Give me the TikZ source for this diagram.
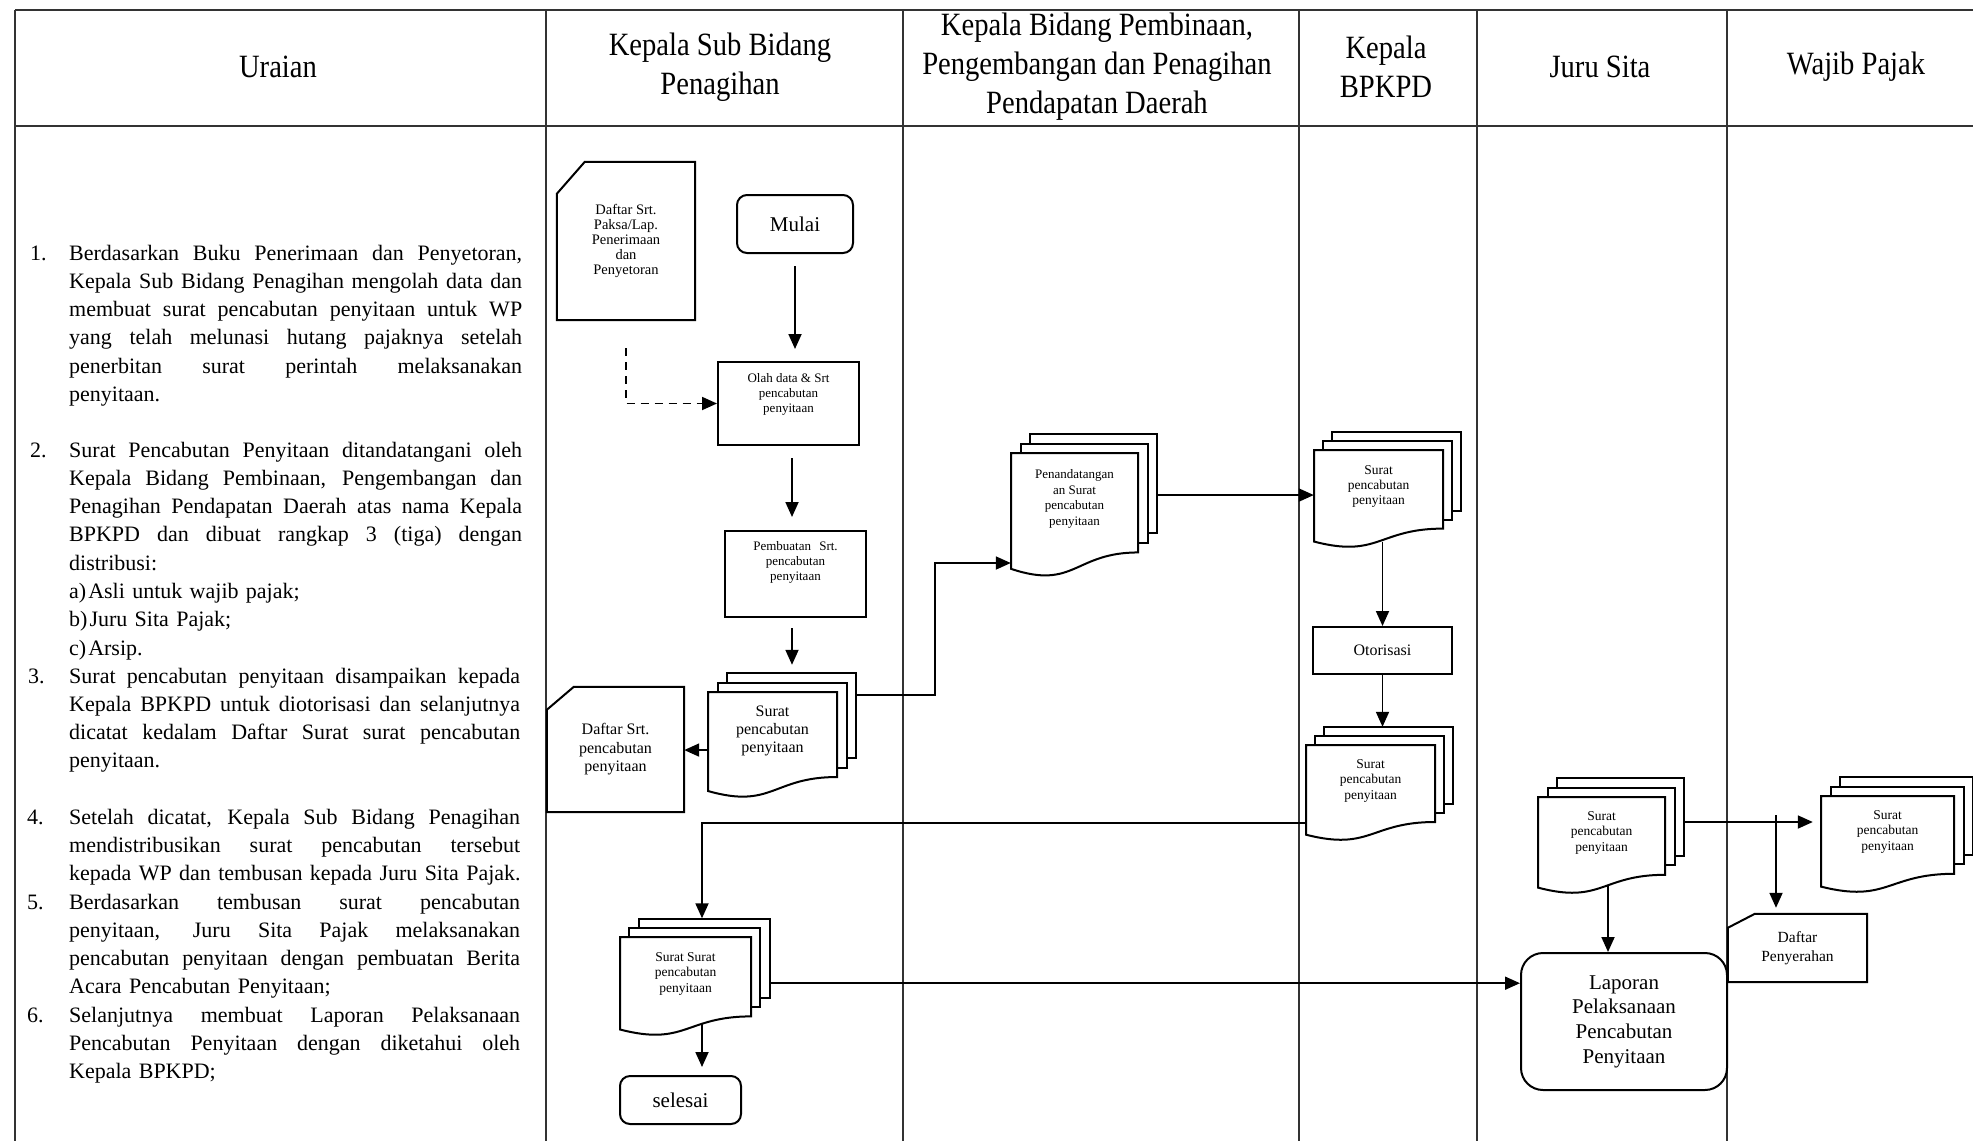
\documentclass[tikz,border=0pt]{standalone}
\usepackage{fontspec}
\setmainfont{Liberation Serif}
\newfontfamily\headfont{Liberation Serif}[FakeStretch=0.88]
\usetikzlibrary{arrows.meta}

% one line of a paragraph, spread to the given width
\newcommand\justline[2]{\leavevmode\hbox to #1pt{\spaceskip=.25em plus 1em minus .08em\relax #2}}

% multi-document symbol: #1 name, #2 left x, #3 right x, #4 top y, #5 height,
% #6 page offset, #7 font size, #8 leading, #9 text
\newcommand\mdoc[9]{%
  \draw[shp] ({#2+2*#6},{#4-2*#6}) rectangle ({#3+2*#6},{#4+0.802*#5-2*#6});
  \draw[shp] ({#2+#6},{#4-#6}) rectangle ({#3+#6},{#4+0.802*#5-#6});
  \draw[shp] (#2,#4) -- (#3,#4) -- ({#3},{#4+0.802*#5})
     .. controls ({(#2+#3)/2},{#4+0.802*#5}) and ({(#2+#3)/2},{#4+1.107*#5}) ..
     ({#2},{#4+0.934*#5}) -- cycle;
  \node[inner sep=0pt, minimum width={#3-#2}, minimum height={0.933*#5}]
     (#1) at ({(#2+#3)/2},{#4+0.4665*#5}) {};
  \node[font=\fontsize{#7}{#8}\selectfont, align=center, inner sep=0pt]
     (#1t) at ({(#2+#3)/2},{#4+0.37*#5}) {#9};
}

\begin{document}
\begin{tikzpicture}[x=1pt, y=-1pt,
  tbl/.style={line width=1.2pt, draw=black!80},
  shp/.style={line width=2pt, draw=black, fill=white},
  arr/.style={line width=1.8pt, -{Triangle[length=15pt,width=13pt]}},
  dasharr/.style={arr, dash pattern=on 8pt off 6pt},
  body/.style={font=\fontsize{22}{28.3}\selectfont, inner sep=0pt, anchor=base west},
  hdr/.style={font=\headfont\fontsize{32.5}{39}\selectfont, align=center, inner sep=0pt},
  box/.style={draw, line width=2pt, inner sep=0pt, align=center},
  cardtext/.style={inner sep=0pt, align=center},
]
\useasboundingbox[fill=white] (0,0) rectangle (1973,1141);

% ---- table frame ----
\draw[tbl] (15,10) -- (1973,10);
\draw[tbl] (15,126) -- (1973,126);
\foreach \cx in {15,546,903,1299,1477,1727} \draw[tbl] (\cx,10) -- (\cx,1141);

% ---- column headings ----
\node[hdr] (h1) at (278,67) {Uraian};
\node[hdr] (h2) at (720,67) {Kepala Sub Bidang\\Penagihan};
\node[hdr] (h3) at (1097,67) {Kepala Bidang Pembinaan,\\Pengembangan dan Penagihan\\Pendapatan Daerah};
\node[hdr] (h4) at (1386,67) {Kepala\\BPKPD};
\node[hdr] (h5) at (1600,67) {Juru Sita};
\node[hdr] (h6) at (1856,67) {Wajib Pajak};

% ---- description column ----
\node[body] (n1) at (30,260) {1.};
\node[body, text width=453pt] (t1) at (69,260) {%
\justline{453}{Berdasarkan Buku Penerimaan dan Penyetoran,}\\
\justline{453}{Kepala Sub Bidang Penagihan mengolah data dan}\\
\justline{453}{membuat surat pencabutan penyitaan untuk WP}\\
\justline{453}{yang telah melunasi hutang pajaknya setelah}\\
\justline{453}{penerbitan surat perintah melaksanakan}\\
penyitaan.};

\node[body] (n2) at (30,457) {2.};
\node[body, text width=453pt] (t2) at (69,457) {%
\justline{453}{Surat Pencabutan Penyitaan ditandatangani oleh}\\
\justline{453}{Kepala Bidang Pembinaan, Pengembangan dan}\\
\justline{453}{Penagihan Pendapatan Daerah atas nama Kepala}\\
\justline{453}{BPKPD dan dibuat rangkap 3 (tiga) dengan}\\
distribusi:\\
a)\kern2pt Asli untuk wajib pajak;\\
b)\kern2pt Juru Sita Pajak;\\
c)\kern2pt Arsip.};

\node[body] (n3) at (28,683) {3.};
\node[body, text width=451pt] (t3) at (69,683) {%
\justline{451}{Surat pencabutan penyitaan disampaikan kepada}\\
\justline{451}{Kepala BPKPD untuk diotorisasi dan selanjutnya}\\
\justline{451}{dicatat kedalam Daftar Surat surat pencabutan}\\
penyitaan.};

\node[body] (n4) at (27,824) {4.};
\node[body, text width=451pt] (t4) at (69,824) {%
\justline{451}{Setelah dicatat, Kepala Sub Bidang Penagihan}\\
\justline{451}{mendistribusikan surat pencabutan tersebut}\\
\mbox{kepada WP dan tembusan kepada Juru Sita Pajak.}};

\node[body] (n5) at (27,909) {5.};
\node[body, text width=451pt] (t5) at (69,909) {%
\justline{451}{Berdasarkan tembusan surat pencabutan}\\
\justline{451}{penyitaan, Juru Sita Pajak melaksanakan}\\
\justline{451}{pencabutan penyitaan dengan pembuatan Berita}\\
Acara Pencabutan Penyitaan;};

\node[body] (n6) at (27,1022) {6.};
\node[body, text width=451pt] (t6) at (69,1022) {%
\justline{451}{Selanjutnya membuat Laporan Pelaksanaan}\\
\justline{451}{Pencabutan Penyitaan dengan diketahui oleh}\\
Kepala BPKPD;};

% ---- Kepala Sub Bidang Penagihan ----
\node[cardtext, minimum width=138, minimum height=158, font=\fontsize{14.5}{15}\selectfont]
  (card1) at (626,241) {Daftar Srt.\\Paksa/Lap.\\Penerimaan\\dan\\Penyetoran};
\draw[line width=2pt] ([xshift=28pt]card1.north west) -- (card1.north east) -- (card1.south east)
  -- (card1.south west) -- ([yshift=-32pt]card1.north west) -- cycle;

\node[box, rounded corners=10pt, minimum width=116, minimum height=58,
  font=\fontsize{21}{25}\selectfont] (mulai) at (795,224) {Mulai};

\node[box, minimum width=141, minimum height=83, font=\fontsize{13}{15}\selectfont]
  (olah) at (788.5,403.5) {Olah data \& Srt\\pencabutan\\penyitaan\\[6pt]};

\node[box, minimum width=141, minimum height=86, font=\fontsize{13}{15}\selectfont]
  (pemb) at (795.5,574) {Pembuatan\hspace{5pt} Srt.\\pencabutan\\penyitaan\\[12pt]};

\mdoc{s1}{708}{837}{692}{106}{9.5}{16}{18}{Surat\\pencabutan\\penyitaan}

\node[cardtext, minimum width=137, minimum height=125, font=\fontsize{16}{18.5}\selectfont]
  (card2) at (615.5,749.5) {Daftar Srt.\\pencabutan\\penyitaan};
\draw[line width=2pt] ([xshift=27pt]card2.north west) -- (card2.north east) -- (card2.south east)
  -- (card2.south west) -- ([yshift=-23pt]card2.north west) -- cycle;

\mdoc{s2}{620}{751}{937}{99}{9.25}{13.5}{15.5}{Surat Surat\\pencabutan\\penyitaan}

\node[box, rounded corners=10pt, minimum width=121, minimum height=48,
  font=\fontsize{21}{25}\selectfont] (selesai) at (680.5,1100) {selesai};

% ---- Kepala Bidang Pembinaan ----
\mdoc{p}{1011}{1138}{453}{124}{9.5}{13}{15.5}{Penandatangan\\an Surat\\pencabutan\\penyitaan}

% ---- Kepala BPKPD ----
\mdoc{b1}{1314}{1443}{450}{98}{9}{13.5}{15}{Surat\\pencabutan\\penyitaan}
\node[box, minimum width=139, minimum height=47, font=\fontsize{16}{19}\selectfont]
  (otor) at (1382.5,650.5) {Otorisasi};
\mdoc{b2}{1306}{1435}{745}{96}{9}{13.5}{15.5}{Surat\\pencabutan\\penyitaan}

% ---- Juru Sita ----
\mdoc{j}{1538}{1665}{797}{97}{9.5}{13.5}{15.5}{Surat\\pencabutan\\penyitaan}
\node[box, rounded corners=22pt, minimum width=206, minimum height=137,
  font=\fontsize{21}{24.7}\selectfont] (lap) at (1624,1021.5)
  {Laporan\\Pelaksanaan\\Pencabutan\\Penyitaan};

% ---- Wajib Pajak ----
\mdoc{w}{1821}{1954}{796}{97}{9.5}{13.5}{15.5}{Surat\\pencabutan\\penyitaan}
\node[cardtext, minimum width=139, minimum height=68, font=\fontsize{15.5}{19}\selectfont]
  (dp) at (1797.5,948) {Daftar\\Penyerahan};
\draw[line width=2pt] ([xshift=27pt]dp.north west) -- (dp.north east) -- (dp.south east)
  -- (dp.south west) -- ([yshift=-14pt]dp.north west) -- cycle;

% ---- flow ----
\draw[arr, shorten <=12pt, shorten >=12pt] (mulai.south) -- (mulai.south |- olah.north);
\draw[dasharr, shorten <=28pt] (card1.south) |- (olah.west);
\draw[arr, shorten <=12pt, shorten >=13pt] ([xshift=3.5pt]olah.south) -- ([xshift=3.5pt]olah.south |- pemb.north);
\draw[arr, shorten <=10pt, shorten >=27pt] ([xshift=-3.5pt]pemb.south) -- ([xshift=-3.5pt]pemb.south |- s1.north);
\draw[arr] ([yshift=-8.6pt]s1.west) -- ([yshift=-8.6pt]s1.west -| card2.east);

\coordinate (k1) at (935,563);
\draw[arr] ([xshift=19pt,yshift=-3pt]s1.north east) -| (k1) -- (k1 -| p.west);
\draw[arr] ([xshift=19pt,yshift=15.8pt]p.east) -- ([yshift=15.8pt]p.east -| b1.west);

\draw[arr] (b1.south -| otor.north) -- (otor.north);
\draw[arr, shorten >=18pt] (otor.south) -- (otor.south |- b2.north);
\draw[arr, shorten >=18.5pt] ([yshift=-33.2pt]b2.west) -| ([xshift=16.5pt]s2.north);

\draw[arr, shorten <=-6pt, shorten >=8pt] ([xshift=16.5pt]s2.south) -- ([xshift=16.5pt]s2.south |- selesai.north);
\draw[arr] ([xshift=18.5pt]s2.east) -- (s2.east -| lap.west);

\draw[arr, shorten >=8pt] ([xshift=19pt,yshift=20.25pt]j.east) -- ([yshift=20.25pt]j.east -| w.west);
\coordinate (jx) at (1776,815);
\draw[arr, shorten >=6pt] (jx) -- (jx |- dp.north);
\draw[arr, shorten <=-3pt] ([xshift=6.5pt]j.south) -- ([xshift=6.5pt]j.south |- lap.north);

\end{tikzpicture}
\end{document}
